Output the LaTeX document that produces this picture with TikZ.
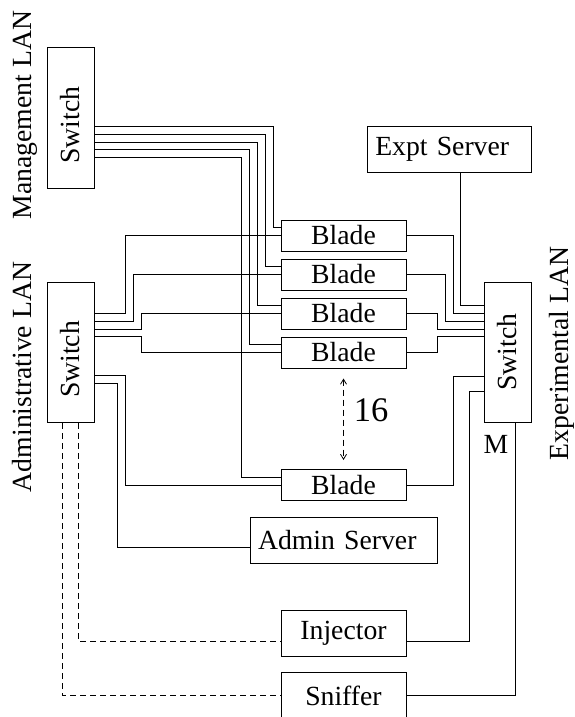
\documentclass[tikz,border=0pt]{standalone}
\usepackage{fontspec}
\setmainfont{Liberation Serif}
\usetikzlibrary{arrows.meta, calc}

\begin{document}
\begin{tikzpicture}[
  x=1pt, y=-1pt,
  every node/.style={font=\fontsize{27.7}{33}\selectfont},
  box/.style={draw, line width=1pt, inner sep=0pt, minimum height=31pt, minimum width=125pt},
  srv/.style={draw, line width=1pt, inner ysep=0pt, inner xsep=8pt, minimum height=46pt, align=left},
  sw/.style={draw, line width=1pt, inner sep=0pt, minimum width=47pt, minimum height=140pt},
  lan/.style={rotate=90, inner sep=0pt},
  wire/.style={line width=1pt},
  link/.style={line width=1pt, dash pattern=on 6pt off 4pt},
  arr/.style={{Straight Barb[length=5pt, width=6pt]}-{Straight Barb[length=5pt, width=6pt]}}
]
\useasboundingbox (0,0) rectangle (575,717);

% switches
\node[sw] (mgmt) at (70.5,118) {\rotatebox{90}{Switch\hspace{14pt}}};
\node[sw] (adm) at (70.5,352.5) {\rotatebox{90}{Switch\hspace{14pt}}};
\node[sw] (exp) at (507.5,352) {\rotatebox{90}{Switch}};

\node[lan] (mgmtlan) at (25,115) {Management LAN};
\node[lan] (admlan) at (22,377) {Administrative LAN};
\node[lan] (explan) at (562,353.5) {Experimental LAN};

% blades
\foreach \n/\y in {1/235.5, 2/274.5, 3/313.5, 4/352.5, 5/485}
  \node[box] (b\n) at (343.5,\y) {Blade};

\node[srv, text width=148.5pt] (xsrv) at (449.5,149.5) {Expt Server};
\node[srv, text width=171pt] (asrv) at (343.5,540) {Admin Server};
\node[box, minimum height=46pt] (inj) at (343.5,633) {Injector};
\node[box, minimum height=47pt] (snf) at (343.5,695.5) {Sniffer};

\node (mon) at (496,444) {M};
\node[font=\fontsize{34.5}{40}\selectfont] (cnt) at (371,410) {16};

% management LAN
\foreach \n/\p/\d in {1/8.5/7, 2/16.25/15, 3/24/23, 4/31.75/31, 5/39.5/39}
  \draw[wire] ($(mgmt.east)+(0,\p)$) -| ($(b\n.west)+(-\d,-8)$) -- ($(b\n.west)+(0,-8)$);

% administrative LAN
\foreach \n/\p/\d in {b1/-39/31, b2/-31.2/39, b3/-23.4/47, b4/-15.6/47, b5/23.4/31}
  \draw[wire] ($(adm.east)+(0,\p)$) -- ++(\d,0) |- (\n.west);
\draw[wire] ($(adm.east)+(0,31.2)$) -- ++(23,0) |- ($(asrv.west)+(0,7)$);

% experimental LAN
\draw[wire] ($(xsrv.south)+(11.2,0)$) |- ($(exp.west)+(0,-46.3)$);
\foreach \n/\d/\p in {b1/46.7/-38.5, b2/39/-30.75, b3/31.3/-23, b4/31.3/-15.25, b5/47.3/24}
  \draw[wire] (\n.east) -- ++(\d,0) |- ($(exp.west)+(0,\p)$);
\draw[wire] ($(inj.east)+(0,8.5)$) -- ++(63,0) |- ($(exp.west)+(0,39.7)$);
\draw[wire] (snf.east) -| ($(exp.south)+(8.2,0)$);

% injector and sniffer back to the admin switch
\draw[link] ($(adm.south)+(8,0)$) |- ($(inj.west)+(0,8.5)$);
\draw[link] ($(adm.south)+(-8,0)$) |- (snf.west);

% 16 blades
\draw[link, line width=0.8pt, arr, shorten <=10pt, shorten >=9pt] (b4.south) -- (b5.north);
\end{tikzpicture}
\end{document}
